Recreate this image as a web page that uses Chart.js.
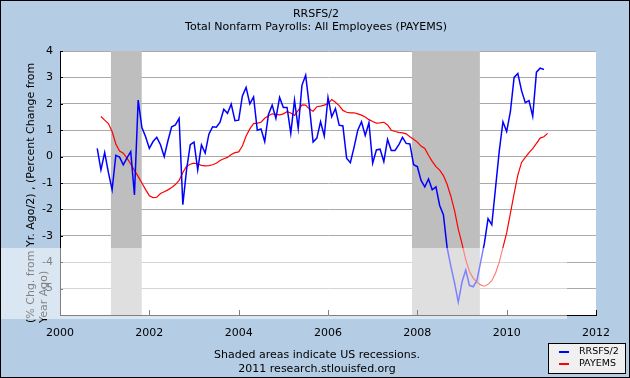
<!DOCTYPE html>
<html><head><meta charset="utf-8">
<script src="https://cdn.jsdelivr.net/npm/chart.js@4/dist/chart.umd.min.js"></script>
<style>html,body{margin:0;padding:0;background:#b4cce4;overflow:hidden}#wrap{width:630px;height:378px;position:relative}</style>
</head><body><div id="wrap"><canvas id="c" width="630" height="378"></canvas></div>
<script>
const titleLines = ["RRSFS/2", "Total Nonfarm Payrolls: All Employees (PAYEMS)"];
const yTitleLines = ["(% Chg. from Yr. Ago/2) , (Percent Change from", "Year Ago)"];
const footerLines = ["Shaded areas indicate US recessions.", "2011 research.stlouisfed.org"];
const seriesNames = ["RRSFS/2", "PAYEMS"];
const xTicks = [2000, 2002, 2004, 2006, 2008, 2010, 2012];
const yTicks = [-6, -5, -4, -3, -2, -1, 0, 1, 2, 3, 4];
const recessions = [[2001.14, 2001.83], [2007.88, 2009.40]];

const rrsfsStart = "2000-11";
const rrsfs = [0.31,-0.50,
0.15,-0.60,-1.26,0.05,-0.02,-0.31,-0.05,0.19,-1.45,2.14,1.10,0.75,
0.31,0.57,0.73,0.45,0.00,0.60,1.13,1.20,1.45,-1.82,-0.50,0.45,
0.55,-0.50,0.44,0.13,0.85,1.13,1.11,1.30,1.79,1.64,1.99,1.36,
1.38,2.30,2.62,2.00,2.26,1.00,1.05,0.57,1.60,1.95,1.45,2.24,
1.86,1.86,0.88,2.14,1.07,2.70,3.08,1.89,0.55,0.70,1.32,0.78,
2.24,1.51,1.82,1.19,1.16,-0.06,-0.23,0.35,1.00,1.32,0.80,1.28,
-0.25,0.25,0.28,-0.19,0.65,0.23,0.23,0.44,0.73,0.50,0.48,-0.31,
-0.38,-0.90,-1.15,-0.85,-1.26,-1.15,-1.85,-2.20,-3.45,-4.15,-4.78,-5.51,
-4.75,-4.30,-4.88,-4.93,-4.70,-4.00,-3.30,-2.35,-2.58,-1.20,0.20,1.32,
0.95,1.70,3.00,3.15,2.50,2.04,2.12,1.53,3.20,3.35,3.30];

const payemsStart = "2000-12";
const payems = [1.52,
1.38,1.25,0.95,0.48,0.21,0.13,-0.06,-0.28,-0.52,-0.75,-1.00,-1.25,
-1.48,-1.55,-1.54,-1.40,-1.33,-1.26,-1.17,-1.06,-0.90,-0.60,-0.36,-0.29,
-0.25,-0.28,-0.33,-0.35,-0.34,-0.31,-0.25,-0.15,-0.08,-0.03,0.08,0.15,
0.18,0.40,0.78,1.05,1.25,1.27,1.30,1.45,1.55,1.62,1.60,1.58,
1.62,1.70,1.65,1.56,1.75,1.96,1.95,1.80,1.72,1.89,1.91,1.95,
2.01,2.16,2.06,1.93,1.75,1.68,1.66,1.66,1.62,1.57,1.50,1.40,
1.33,1.27,1.28,1.30,1.20,1.00,0.95,0.92,0.90,0.86,0.75,0.66,
0.55,0.40,0.31,0.05,-0.18,-0.38,-0.51,-0.72,-1.05,-1.50,-2.05,-2.75,
-3.30,-3.90,-4.35,-4.60,-4.75,-4.86,-4.91,-4.84,-4.70,-4.42,-4.00,-3.45,
-2.89,-2.15,-1.40,-0.70,-0.22,-0.03,0.15,0.30,0.50,0.70,0.75,0.88];

const colors = ["#0000ff", "#ff0000"];
const FONT = '"DejaVu Sans", Verdana, sans-serif';

function toPoints(start, vals) {
  const [y, m] = start.split("-").map(Number);
  const t0 = y + (m - 1) / 12;
  return vals.map((v, i) => ({ x: t0 + i / 12, y: v }));
}

const decor = {
  id: 'decor',
  beforeDraw(chart) {
    const { ctx, chartArea: a } = chart;
    ctx.save();
    ctx.fillStyle = '#b4cce4';
    ctx.fillRect(0, 0, chart.width, chart.height);
    ctx.fillStyle = '#ffffff';
    ctx.fillRect(a.left, a.top, a.right - a.left, a.bottom - a.top);
    ctx.restore();
  },
  beforeDatasetsDraw(chart) {
    const { ctx, chartArea: a, scales: { x } } = chart;
    ctx.save();
    ctx.fillStyle = '#bebebe';
    recessions.forEach(([s, e]) => {
      const x1 = x.getPixelForValue(s), x2 = x.getPixelForValue(e);
      ctx.fillRect(x1, a.top, x2 - x1, a.bottom - a.top);
    });
    ctx.restore();
  },
  afterDraw(chart) {
    const { ctx, chartArea: a, scales: { x, y } } = chart;
    ctx.save();
    ctx.strokeStyle = '#000';
    ctx.lineWidth = 1;
    ctx.beginPath();
    xTicks.slice(1).forEach(v => {
      const px = Math.round(x.getPixelForValue(v)) + 0.5;
      ctx.moveTo(px, a.bottom); ctx.lineTo(px, a.bottom - 5);
    });
    yTicks.forEach(v => {
      const py = Math.round(y.getPixelForValue(v)) + 0.5;
      ctx.moveTo(a.left, py); ctx.lineTo(a.left + 3, py);
    });
    ctx.stroke();
    ctx.fillStyle = '#000';
    ctx.textAlign = 'center';
    ctx.textBaseline = 'middle';
    ctx.font = '11px ' + FONT;
    ctx.fillText(titleLines[0], 316, 14);
    ctx.fillText(titleLines[1], 316, 27);
    ctx.fillText(footerLines[0], 317, 355);
    ctx.fillText(footerLines[1], 317, 369);
    ctx.save();
    ctx.translate(31, 323);
    ctx.rotate(-Math.PI / 2);
    ctx.textAlign = 'left';
    ctx.fillText(yTitleLines[0], 0, 0);
    ctx.fillText(yTitleLines[1], 0, 13);
    ctx.restore();
    ctx.fillStyle = '#f0f0f0';
    ctx.fillRect(548, 343, 78, 31);
    ctx.strokeStyle = '#000';
    ctx.strokeRect(548.5, 343.5, 77, 30);
    ctx.font = '9.5px ' + FONT;
    ctx.textAlign = 'left';
    seriesNames.forEach((n, i) => {
      const ly = 352 + i * 12;
      ctx.fillStyle = colors[i];
      ctx.fillRect(559, ly - 1, 10, 2);
      ctx.fillStyle = '#000';
      ctx.fillText(n, 579, ly);
    });
    ctx.fillStyle = 'rgba(255,255,255,0.5)';
    ctx.fillRect(0, 248, 567, 71);
    ctx.strokeStyle = '#000';
    ctx.strokeRect(0.5, 0.5, chart.width - 1, chart.height - 1);
    ctx.restore();
  }
};

new Chart(document.getElementById('c'), {
  type: 'line',
  data: {
    datasets: [
      { label: seriesNames[0], data: toPoints(rrsfsStart, rrsfs), borderColor: colors[0], borderWidth: 1.5, pointRadius: 0, tension: 0, fill: false },
      { label: seriesNames[1], data: toPoints(payemsStart, payems), borderColor: colors[1], borderWidth: 1.2, pointRadius: 0, tension: 0, fill: false }
    ]
  },
  options: {
    responsive: false,
    animation: false,
    devicePixelRatio: 1,
    layout: { padding: { left: 0, top: 51, right: 34, bottom: 0 } },
    plugins: { legend: { display: false }, title: { display: false }, tooltip: { enabled: false } },
    scales: {
      x: {
        type: 'linear', min: 2000, max: 2012,
        afterBuildTicks: s => { s.ticks = xTicks.map(v => ({ value: v })); },
        afterFit: s => { s.height = 63; },
        ticks: { callback: v => String(v), font: { family: FONT, size: 11 }, color: '#000', padding: 12, maxRotation: 0, autoSkip: false },
        grid: { display: false, drawTicks: false },
        border: { display: true, color: '#000', width: 1 }
      },
      y: {
        min: -6, max: 4,
        afterBuildTicks: s => { s.ticks = yTicks.map(v => ({ value: v })); },
        afterFit: s => { s.width = 60; },
        ticks: { callback: v => (v === -6 ? '' : String(v)), font: { family: FONT, size: 11 }, color: '#000', padding: 7, autoSkip: false },
        grid: { color: '#aaaaaa', lineWidth: 1, drawTicks: false },
        border: { display: true, color: '#000', width: 1 }
      }
    }
  },
  plugins: [decor]
});
</script></body></html>
